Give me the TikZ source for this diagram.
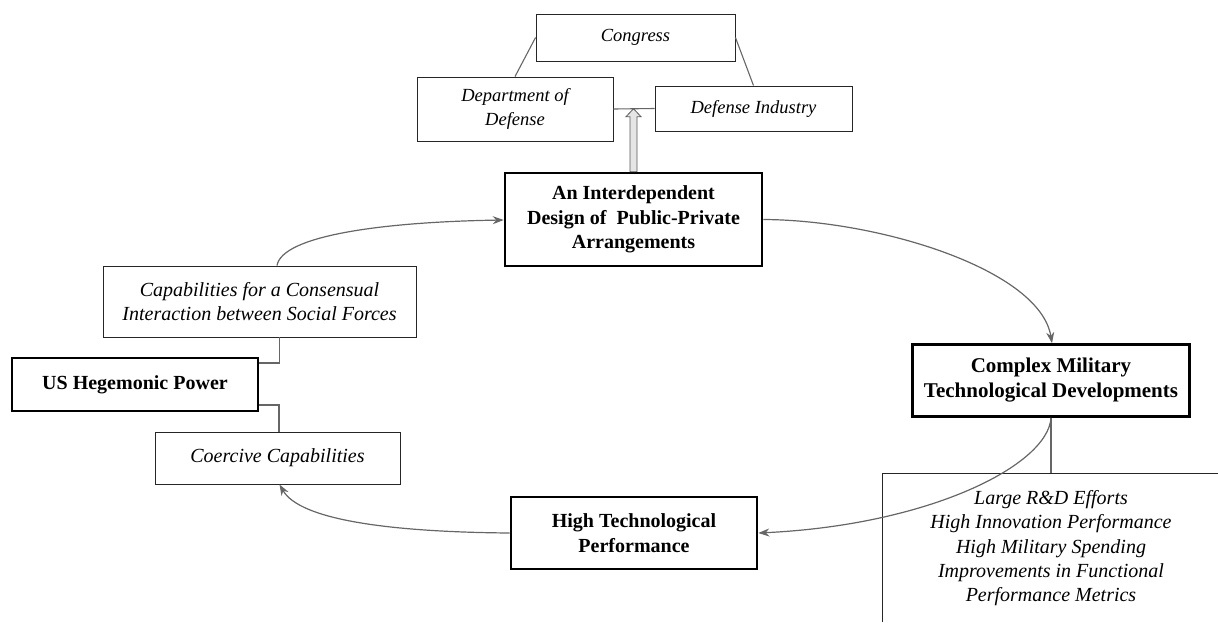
\documentclass[tikz,border=0pt]{standalone}
\usepackage{fontspec}
\setmainfont{Liberation Serif}
\usetikzlibrary{arrows.meta,calc}
\begin{document}
\begin{tikzpicture}[x=1pt,y=-1pt,
  thinbox/.style={draw=black!85,line width=0.9pt,inner sep=0pt,align=center,font=\fontsize{20}{24.5}\selectfont\itshape},
  topbox/.style={thinbox,font=\fontsize{18.5}{24}\selectfont\itshape},
  thickbox/.style={draw=black,line width=2.6pt,inner sep=0pt,align=center,font=\fontsize{20}{24.5}\selectfont\bfseries},
  link/.style={draw=black!60,line width=1.1pt},
  flow/.style={draw=black!60,line width=1.2pt,-{Stealth[length=11pt,width=8pt]}}]
\useasboundingbox (0,0) rectangle (1218,622);
% nodes
\node[topbox,minimum width=199pt,minimum height=47pt] (congress) at (635.5,37.5) {Congress};
\node[topbox,minimum width=196pt,minimum height=64pt] (dod) at (515,109) {Department of\\Defense};
\node[topbox,minimum width=197pt,minimum height=45pt] (di) at (753.5,108.5) {Defense Industry};
\node[thickbox,minimum width=257pt,minimum height=93pt] (main) at (633.5,219.5) {An Interdependent\\Design of~ Public-Private\\Arrangements};
\node[thinbox,minimum width=313pt,minimum height=71pt] (cap) at (259.5,301.5) {Capabilities for a Consensual\\Interaction between Social Forces};
\node[thickbox,minimum width=246pt,minimum height=53pt] (us) at (135,384.5) {US Hegemonic Power};
\node[thinbox,minimum width=245pt,minimum height=52pt] (coer) at (277.5,458) {Coercive Capabilities};
\node[thickbox,minimum width=277pt,minimum height=72pt,font=\fontsize{21}{25}\selectfont\bfseries] (cmx) at (1051,380.5) {Complex Military\\Technological Developments};
\node[thickbox,minimum width=246pt,minimum height=72pt] (ht) at (634,533) {High Technological\\Performance};
% clipped box at the bottom right
\coordinate (bl) at (882,622);
\coordinate (tl) at (882,473);
\coordinate (tr) at (1218,473);
\draw[draw=black!85,line width=0.9pt] (bl) -- (tl) -- (tr);
\node[align=center,font=\fontsize{20}{24.3}\selectfont\itshape,anchor=north] (eff) at (1051,487)
  {Large R\&D Efforts\\High Innovation Performance\\High Military Spending\\Improvements in Functional\\Performance Metrics};
\coordinate (efftop) at (1051,473);
% connectors
\draw[link] (dod.north) -- (congress.west);
\draw[link] (di.north) -- (congress.east);
\draw[link] (dod.east) -- (di.west);
\draw[link] ([xshift=20pt]cap.south) |- ([yshift=21.5pt]us.east);
\draw[link] ([yshift=-20.5pt]us.east) -| ([xshift=1.5pt]coer.north);
\draw[link] (cmx.south) -- (efftop);
% hollow arrow
\coordinate (ha) at (main.north);
\draw[draw=black!65,fill=black!10,line width=0.8pt]
  ($(ha)+(-3.5,0)$) -- ($(ha)+(-3.5,-55)$) -- ($(ha)+(-7.5,-55)$) -- ($(ha)+(0,-63)$)
  -- ($(ha)+(7.5,-55)$) -- ($(ha)+(3.5,-55)$) -- ($(ha)+(3.5,0)$) -- cycle;
% flow arrows
\draw[flow] ([xshift=17.5pt]cap.north) .. controls (282,236) and (380,222) .. ([yshift=-0.5pt]main.west);
\draw[flow] (main.east) .. controls (880,220) and (1040,270) .. ([xshift=1pt]cmx.north);
\draw[flow] (cmx.south) .. controls (1048,465) and (930,525) .. (ht.east);
\draw[flow] (ht.west) .. controls (390,532) and (300,520) .. ([xshift=2pt]coer.south);
\end{tikzpicture}
\end{document}
